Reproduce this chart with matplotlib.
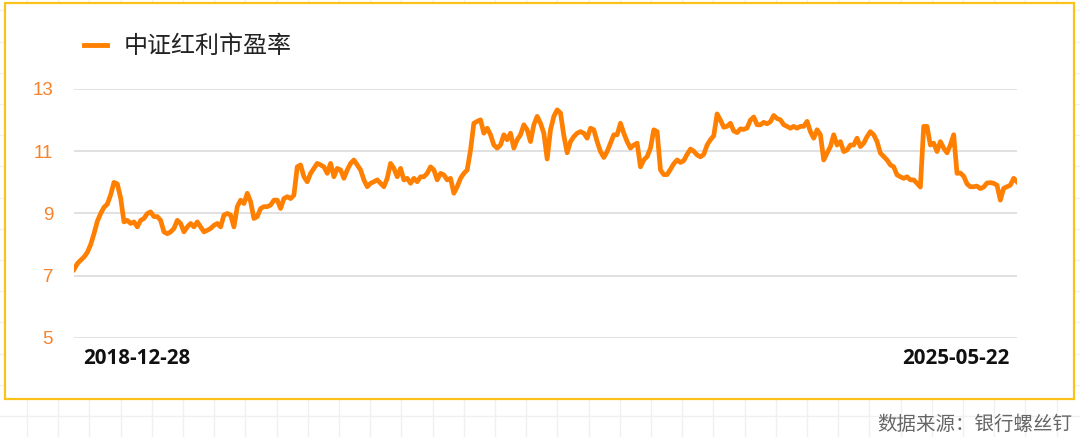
import numpy as np
import pandas as pd
import matplotlib
matplotlib.use("Agg")
import matplotlib.pyplot as plt
from matplotlib.lines import Line2D
from matplotlib.patches import Rectangle

plt.rcParams['font.family'] = ['Noto Sans CJK SC', 'DejaVu Sans']

series_name = "中证红利市盈率"
start_date = "2018-12-28"
end_date = "2025-05-22"
source_text = "数据来源：银行螺丝钉"
y_ticks = [5, 7, 9, 11, 13]

pe_2019_2020 = [
    7.2, 7.39, 7.5, 7.6, 7.75, 8.0, 8.35, 8.75, 9.0, 9.2, 9.3, 9.6, 10.0, 9.95, 9.5,
    8.73, 8.78, 8.68, 8.73, 8.57, 8.78, 8.84, 9.0, 9.05, 8.9, 8.9, 8.78, 8.41, 8.35,
    8.41, 8.52, 8.78, 8.68, 8.41, 8.57, 8.68, 8.57, 8.73, 8.57, 8.41, 8.46, 8.52, 8.62,
    8.68, 8.57, 8.95, 9.0, 8.95, 8.57, 9.22, 9.43, 9.32, 9.65, 9.38, 8.84, 8.9, 9.16,
    9.22, 9.22, 9.27, 9.43, 9.43, 9.16, 9.48, 9.54, 9.48, 9.59, 10.5,
]
pe_2021_2022 = [
    10.56, 10.18, 10.02, 10.29, 10.45, 10.61, 10.56, 10.5, 10.29, 10.61, 10.18, 10.45,
    10.4, 10.13, 10.4, 10.61, 10.72, 10.56, 10.4, 10.08, 9.86, 9.97, 10.02, 10.08, 9.97,
    9.86, 10.13, 10.61, 10.45, 10.18, 10.45, 10.08, 10.13, 9.97, 10.13, 10.02, 10.18,
    10.18, 10.29, 10.5, 10.4, 10.08, 10.29, 10.24, 10.08, 10.13, 9.65, 9.86, 10.13,
    10.29, 10.4, 11.04, 11.9, 11.96, 12.01, 11.58, 11.74, 11.53, 11.2, 11.1, 11.2, 11.53,
    11.37, 11.58, 11.1, 11.37, 11.53, 11.85, 11.69, 11.31, 11.85, 12.12,
]
pe_2023_2024 = [
    11.9, 11.58, 10.75, 11.69, 12.12, 12.33, 12.23, 11.5, 10.95, 11.31, 11.47, 11.58,
    11.63, 11.58, 11.42, 11.74, 11.69, 11.31, 10.99, 10.8, 10.99, 11.26, 11.53, 11.53,
    11.9, 11.58, 11.31, 11.1, 11.2, 11.26, 10.5, 10.72, 10.83, 11.1, 11.69, 11.63, 10.4,
    10.25, 10.25, 10.42, 10.6, 10.72, 10.64, 10.7, 10.9, 11.07, 11.0, 10.88, 10.82, 10.9,
    11.2, 11.37, 11.5, 12.2, 12.0, 11.77, 11.8, 11.9, 11.65, 11.6, 11.72, 11.7, 11.75,
    12.0, 12.1, 11.85, 11.85, 11.93, 11.88, 11.95, 12.15, 12.05,
]
pe_2024_2025 = [
    12.01, 11.85, 11.8, 11.74, 11.8, 11.74, 11.8, 11.8, 11.96, 11.63, 11.42, 11.69,
    11.53, 10.72, 10.94, 11.15, 11.53, 11.2, 11.31, 10.99, 11.04, 11.2, 11.2, 11.42,
    11.15, 11.26, 11.47, 11.63, 11.53, 11.31, 10.94, 10.83, 10.72, 10.56, 10.5, 10.24,
    10.18, 10.13, 10.18, 10.08, 10.08, 9.97, 9.85, 11.8, 11.8, 11.2, 11.26, 10.99, 11.31,
    11.1, 10.95, 11.2, 11.53, 10.29, 10.3, 10.2, 9.95, 9.86, 9.86, 9.88, 9.8, 9.85, 9.98,
    9.99, 9.97, 9.91, 9.43, 9.81, 9.86, 9.91, 10.13, 10.02,
]

values = pe_2019_2020 + pe_2021_2022 + pe_2023_2024 + pe_2024_2025
dates = pd.date_range(start_date, end_date, periods=len(values))

line_color = "#FF7F00"
W, H = 1080, 437
fig = plt.figure(figsize=(W / 100, H / 100), dpi=100)

# background grid outside the card
bg = fig.add_axes([0, 0, 1, 1], zorder=-10)
bg.set_xlim(0, W)
bg.set_ylim(H, 0)
bg.axis("off")
for gx in np.arange(27, W, 31.2):
    bg.axvline(gx, color="#f0f0f0", lw=1)
for gy in np.arange(416, -1, -31.2):
    bg.axhline(gy, color="#f0f0f0", lw=1)
bg.add_patch(Rectangle((5, 3), 1069, 396, facecolor="white",
                       edgecolor="#FBC21B", lw=1.6, zorder=5))

ax = fig.add_axes([74 / W, 1 - 338 / H, (1017 - 74) / W, (338 - 89) / H])
ax.patch.set_alpha(0)
ax.plot(dates, values, color=line_color, lw=3.4, solid_joinstyle="round")
ax.set_xlim(dates[0], dates[-1])
ax.set_ylim(5, 13)
ax.set_yticks(y_ticks)
ax.set_yticklabels([str(t) for t in y_ticks], color="#F7822A", fontsize=13.5,
                   family="Liberation Sans")
ax.tick_params(axis="y", length=0, pad=15)
ax.set_xticks([])
ax.grid(axis="y", color="#dcdcdc", lw=1.2)
for s in ax.spines.values():
    s.set_visible(False)

fig.text(83 / W, 1 - 358 / H, start_date, fontsize=14.8, fontweight="bold",
         family="Open Sans", ha="left", va="center", color="#111111")
fig.text(1009 / W, 1 - 358 / H, end_date, fontsize=14.8, fontweight="bold",
         family="Open Sans", ha="right", va="center", color="#111111")

handle = Line2D([], [], color=line_color, lw=3.5)
fig.legend([handle], [series_name], loc="center left",
           bbox_to_anchor=(84 / W, 1 - 46 / H), frameon=False,
           fontsize=17.3, handlelength=0.95, handletextpad=0.7,
           borderpad=0, borderaxespad=0, labelcolor="#222222")

fig.text(1072 / W, 1 - 424 / H, source_text, fontsize=14, color="#666666",
         ha="right", va="center")

fig.savefig("out.png", dpi=100)
